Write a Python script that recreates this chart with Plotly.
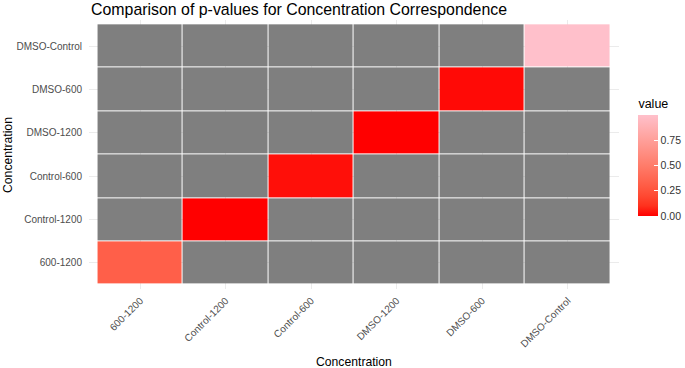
import numpy as np
import plotly.graph_objects as go

# ---- data ----
categories = ["600-1200", "Control-1200", "Control-600", "DMSO-1200", "DMSO-600", "DMSO-Control"]
diag_pvalues = [0.32, 0.0, 0.03, 0.0, 0.02, 1.0]
colorbar_ticks = [0.0, 0.25, 0.5, 0.75]
title_text = "Comparison of p-values for Concentration Correspondence"
axis_title = "Concentration"

# ---- Lab-interpolated red -> pink colour scale (like ggplot's scale_fill_gradient) ----
def srgb_to_lab(rgb):
    c = np.array(rgb) / 255.0
    c = np.where(c > 0.04045, ((c + 0.055) / 1.055) ** 2.4, c / 12.92)
    M = np.array([[0.4124, 0.3576, 0.1805], [0.2126, 0.7152, 0.0722], [0.0193, 0.1192, 0.9505]])
    xyz = M @ c / np.array([0.95047, 1.0, 1.08883])
    f = np.where(xyz > 0.008856, np.cbrt(xyz), 7.787 * xyz + 16 / 116)
    return np.array([116 * f[1] - 16, 500 * (f[0] - f[1]), 200 * (f[1] - f[2])])

def lab_to_srgb(lab):
    L, a, b = lab
    fy = (L + 16) / 116
    fx = fy + a / 500
    fz = fy - b / 200
    f = np.array([fx, fy, fz])
    xyz = np.where(f ** 3 > 0.008856, f ** 3, (f - 16 / 116) / 7.787) * np.array([0.95047, 1.0, 1.08883])
    Minv = np.array([[3.2406, -1.5372, -0.4986], [-0.9689, 1.8758, 0.0415], [0.0557, -0.2040, 1.0570]])
    c = Minv @ xyz
    c = np.clip(c, 0, 1)
    c = np.where(c > 0.0031308, 1.055 * c ** (1 / 2.4) - 0.055, 12.92 * c)
    return tuple(int(round(v * 255)) for v in np.clip(c, 0, 1))

low = srgb_to_lab((255, 0, 0))
high = srgb_to_lab((255, 192, 203))
colorscale = []
for t in np.linspace(0, 1, 11):
    r, g, b = lab_to_srgb(low + (high - low) * t)
    colorscale.append([float(t), f"rgb({r},{g},{b})"])

n = len(categories)
z_val = [[diag_pvalues[i] if i == j else None for j in range(n)] for i in range(n)]
z_na = [[None if i == j else 1 for j in range(n)] for i in range(n)]

font_family = "Liberation Sans, Arial, sans-serif"

W, H = 685, 368
ml, mr, mt, mb = 89.4, 66.4, 19.6, 78.6
plot_h = H - mt - mb

# colorbar (title included in len)
cb_top, cb_bot = 96, 216
cb_center = (cb_top + cb_bot) / 2

fig = go.Figure()
fig.add_trace(go.Heatmap(
    x=categories, y=categories, z=z_na,
    colorscale=[[0, "#7F7F7F"], [1, "#7F7F7F"]], showscale=False,
    xgap=1, ygap=1, hoverinfo="skip",
))
fig.add_trace(go.Heatmap(
    x=categories, y=categories, z=z_val,
    colorscale=colorscale, zmin=min(diag_pvalues), zmax=max(diag_pvalues),
    xgap=1, ygap=1,
    colorbar=dict(
        title=dict(text="value", side="top", font=dict(size=12.5, color="#000000", family=font_family)),
        thickness=20, thicknessmode="pixels",
        len=cb_bot - cb_top, lenmode="pixels",
        x=(638 - ml) / (W - ml - mr), xanchor="left",
        y=(H - mb - cb_center) / plot_h, yanchor="middle",
        outlinewidth=0, xpad=0, ypad=0,
        tickvals=colorbar_ticks, tickformat=".2f",
        ticks="inside", ticklen=4, tickcolor="white",
        tickfont=dict(size=10.5, color="#333333", family=font_family),
    ),
))

fig.update_layout(
    width=W, height=H,
    margin=dict(l=ml, r=mr, t=mt, b=mb, pad=0, autoexpand=False),
    paper_bgcolor="white", plot_bgcolor="white",
    font=dict(family=font_family),
    title=dict(text=title_text, x=91 / W, xanchor="left", xref="container",
               y=1 - 9 / H, yanchor="middle", yref="container",
               font=dict(size=15.9, color="#000000", family=font_family)),
    showlegend=False,
)
fig.update_xaxes(
    type="category", categoryorder="array", categoryarray=categories,
    range=[-0.6, n - 0.4], showgrid=True, gridcolor="#EBEBEB", gridwidth=1,
    zeroline=False, showline=False, ticks="", tickangle=-45,
    tickfont=dict(size=10, color="#4D4D4D", family=font_family),
    ticklabelstandoff=3, automargin=False,
)
fig.update_yaxes(
    type="category", categoryorder="array", categoryarray=categories,
    range=[-0.6, n - 0.4], showgrid=True, gridcolor="#EBEBEB", gridwidth=1,
    zeroline=False, showline=False, ticks="",
    tickfont=dict(size=10, color="#4D4D4D", family=font_family),
    ticklabelstandoff=6, automargin=False,
)
fig.add_annotation(text=axis_title, xref="paper", yref="paper",
                   x=0.5, y=-(362.5 - (H - mb)) / plot_h, yanchor="middle",
                   showarrow=False, font=dict(size=12.2, color="#000000", family=font_family))
fig.add_annotation(text=axis_title, xref="paper", yref="paper", textangle=-90,
                   x=-(ml - 8) / (W - ml - mr), xanchor="center", y=0.5,
                   showarrow=False, font=dict(size=12.2, color="#000000", family=font_family))

fig.write_html("out.html", config={"displayModeBar": False},
               post_script="document.body.style.margin='0';document.body.style.overflow='hidden';")
